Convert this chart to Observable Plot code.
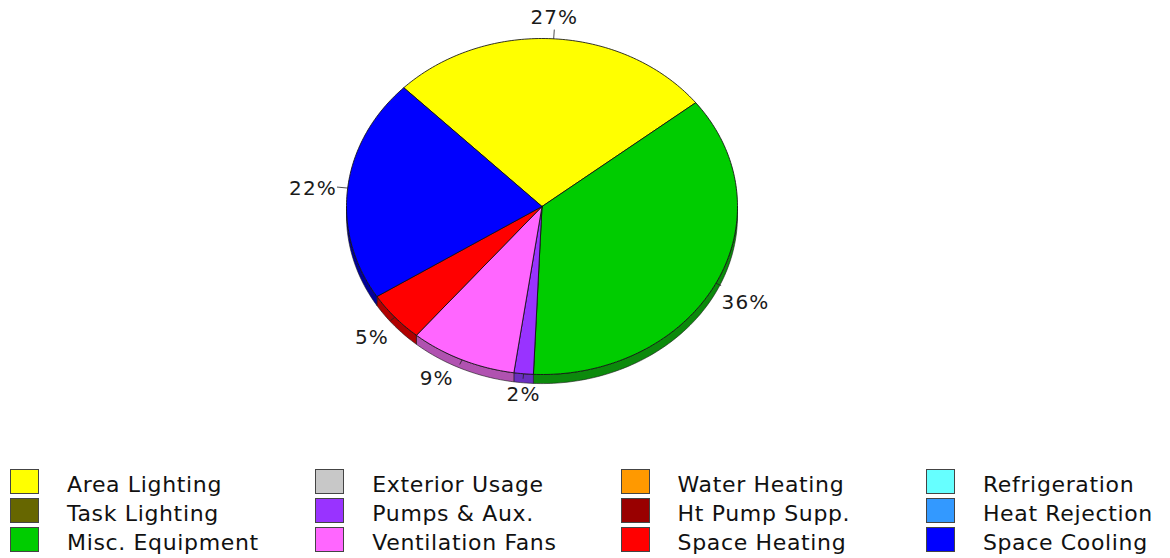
<!DOCTYPE html>
<html>
<head>
<meta charset="utf-8">
<script src="https://cdn.jsdelivr.net/npm/d3@7"></script>
<script src="https://cdn.jsdelivr.net/npm/@observablehq/plot@0.6"></script>
<style>
  html, body { margin: 0; padding: 0; background: #fff; }
  body { width: 1170px; height: 558px; overflow: hidden; font-family: "DejaVu Sans", sans-serif; }
  svg { display: block; }
  svg text { letter-spacing: 1.1px; }
  #legend { display: grid; grid-auto-flow: column; grid-template-rows: repeat(3, 29px); grid-template-columns: repeat(4, 305.3px); padding: 7px 0 0 10px; }
  .item { display: flex; align-items: center; height: 29px; }
  .sw { width: 29px; height: 25px; border: 1px solid #444; box-sizing: border-box; flex: none; }
  .lb { margin-left: 28px; font-size: 22px; color: #111; white-space: nowrap; letter-spacing: 0.65px; position: relative; top: 2.5px; }
</style>
</head>
<body>
<script>
// Data
const sliceNames  = ["Area Lighting", "Misc. Equipment", "Pumps & Aux.", "Ventilation Fans", "Space Heating", "Space Cooling"];
const sliceShares = [26.9, 36.3, 1.6, 8.8, 4.9, 21.5];
const sliceSides  = ["#a0a000", "#0c8a0c", "#6a2fc0", "#b052b0", "#b00000", "#00009a"];

const legendNames = [
  "Area Lighting", "Task Lighting", "Misc. Equipment",
  "Exterior Usage", "Pumps & Aux.", "Ventilation Fans",
  "Water Heating", "Ht Pump Supp.", "Space Heating",
  "Refrigeration", "Heat Rejection", "Space Cooling"
];
const legendColors = [
  "#ffff00", "#666600", "#00cc00",
  "#c8c8c8", "#9933ff", "#ff66ff",
  "#ff9900", "#990000", "#ff0000",
  "#66ffff", "#3399ff", "#0000ff"
];

// Layout
const startAngle = -45;
const depth = 0.054;
const tickLength = 1.055;
const frontTickLength = 1.03;
const labelNudge = [[0, -12], [20, 15], [1, 12], [-21, 10], [-15, 14], [-24, 2]];

const colorOf = new Map(legendNames.map((n, i) => [n, legendColors[i]]));
const total = d3.sum(sliceShares);
let running = startAngle;
const slices = sliceNames.map((name, i) => {
  const a0 = running;
  const a1 = running + sliceShares[i] / total * 360;
  running = a1;
  return { name, a0, a1, mid: (a0 + a1) / 2, share: sliceShares[i], side: sliceSides[i], color: colorOf.get(name), nudge: labelNudge[i] };
});

const pt = (a, k = 1, drop = 0) => {
  const r = a * Math.PI / 180;
  return { x: k * Math.sin(r), y: k * Math.cos(r) - drop };
};
const arc = (a0, a1, drop = 0) => {
  const n = Math.max(2, Math.ceil(Math.abs(a1 - a0)));
  return d3.range(n + 1).map(i => pt(a0 + (a1 - a0) * i / n, 1, drop));
};

const topPts = slices.flatMap(s =>
  [{ x: 0, y: 0 }, ...arc(s.a0, s.a1), { x: 0, y: 0 }].map(p => ({ ...p, id: s.name, fill: s.color })));

const sidePts = slices.flatMap(s => {
  const a0 = Math.max(s.a0, 90), a1 = Math.min(s.a1, 270);
  if (a1 <= a0) return [];
  const top = arc(a0, a1), low = arc(a1, a0, depth);
  return [...top, ...low, top[0]].map(p => ({ ...p, id: s.name, fill: s.side }));
});

const ticks = slices.map(s => {
  const front = s.mid > 90 && s.mid < 270;
  const p = pt(s.mid, 1), q = pt(s.mid, front ? frontTickLength : tickLength);
  return { x1: p.x, y1: p.y, x2: q.x, y2: q.y };
});

const chart = Plot.plot({
  width: 1170,
  height: 460,
  margin: 0,
  x: { domain: [-1, 1], range: [346, 737], axis: null },
  y: { domain: [-1, 1], range: [374, 38], axis: null },
  color: { type: "identity" },
  style: { background: "#fff", fontFamily: "'DejaVu Sans', sans-serif" },
  marks: [
    Plot.line(sidePts, { x: "x", y: "y", z: "id", fill: "fill", stroke: "#1a1a1a", strokeWidth: 0.8, strokeOpacity: 0.75 }),
    Plot.line(topPts, { x: "x", y: "y", z: "id", fill: "fill", stroke: "#111", strokeWidth: 1, strokeOpacity: 0.85 }),
    Plot.link(ticks, { x1: "x1", y1: "y1", x2: "x2", y2: "y2", stroke: "#222", strokeWidth: 1, strokeOpacity: 0.8 }),
    ...slices.map(s => {
      const q = pt(s.mid, tickLength);
      return Plot.text([s], {
        x: () => q.x, y: () => q.y,
        text: d => `${Math.round(d.share)}%`,
        dx: s.nudge[0], dy: s.nudge[1],
        fontSize: 20, fill: "#1a1a1a", textAnchor: "middle"
      });
    })
  ]
});
document.body.appendChild(chart);

const legend = d3.select("body").append("div").attr("id", "legend");
const items = legend.selectAll(".item").data(legendNames).join("div").attr("class", "item");
items.append("div").attr("class", "sw").style("background", (d, i) => legendColors[i]);
items.append("div").attr("class", "lb").text(d => d);
</script>
</body>
</html>
